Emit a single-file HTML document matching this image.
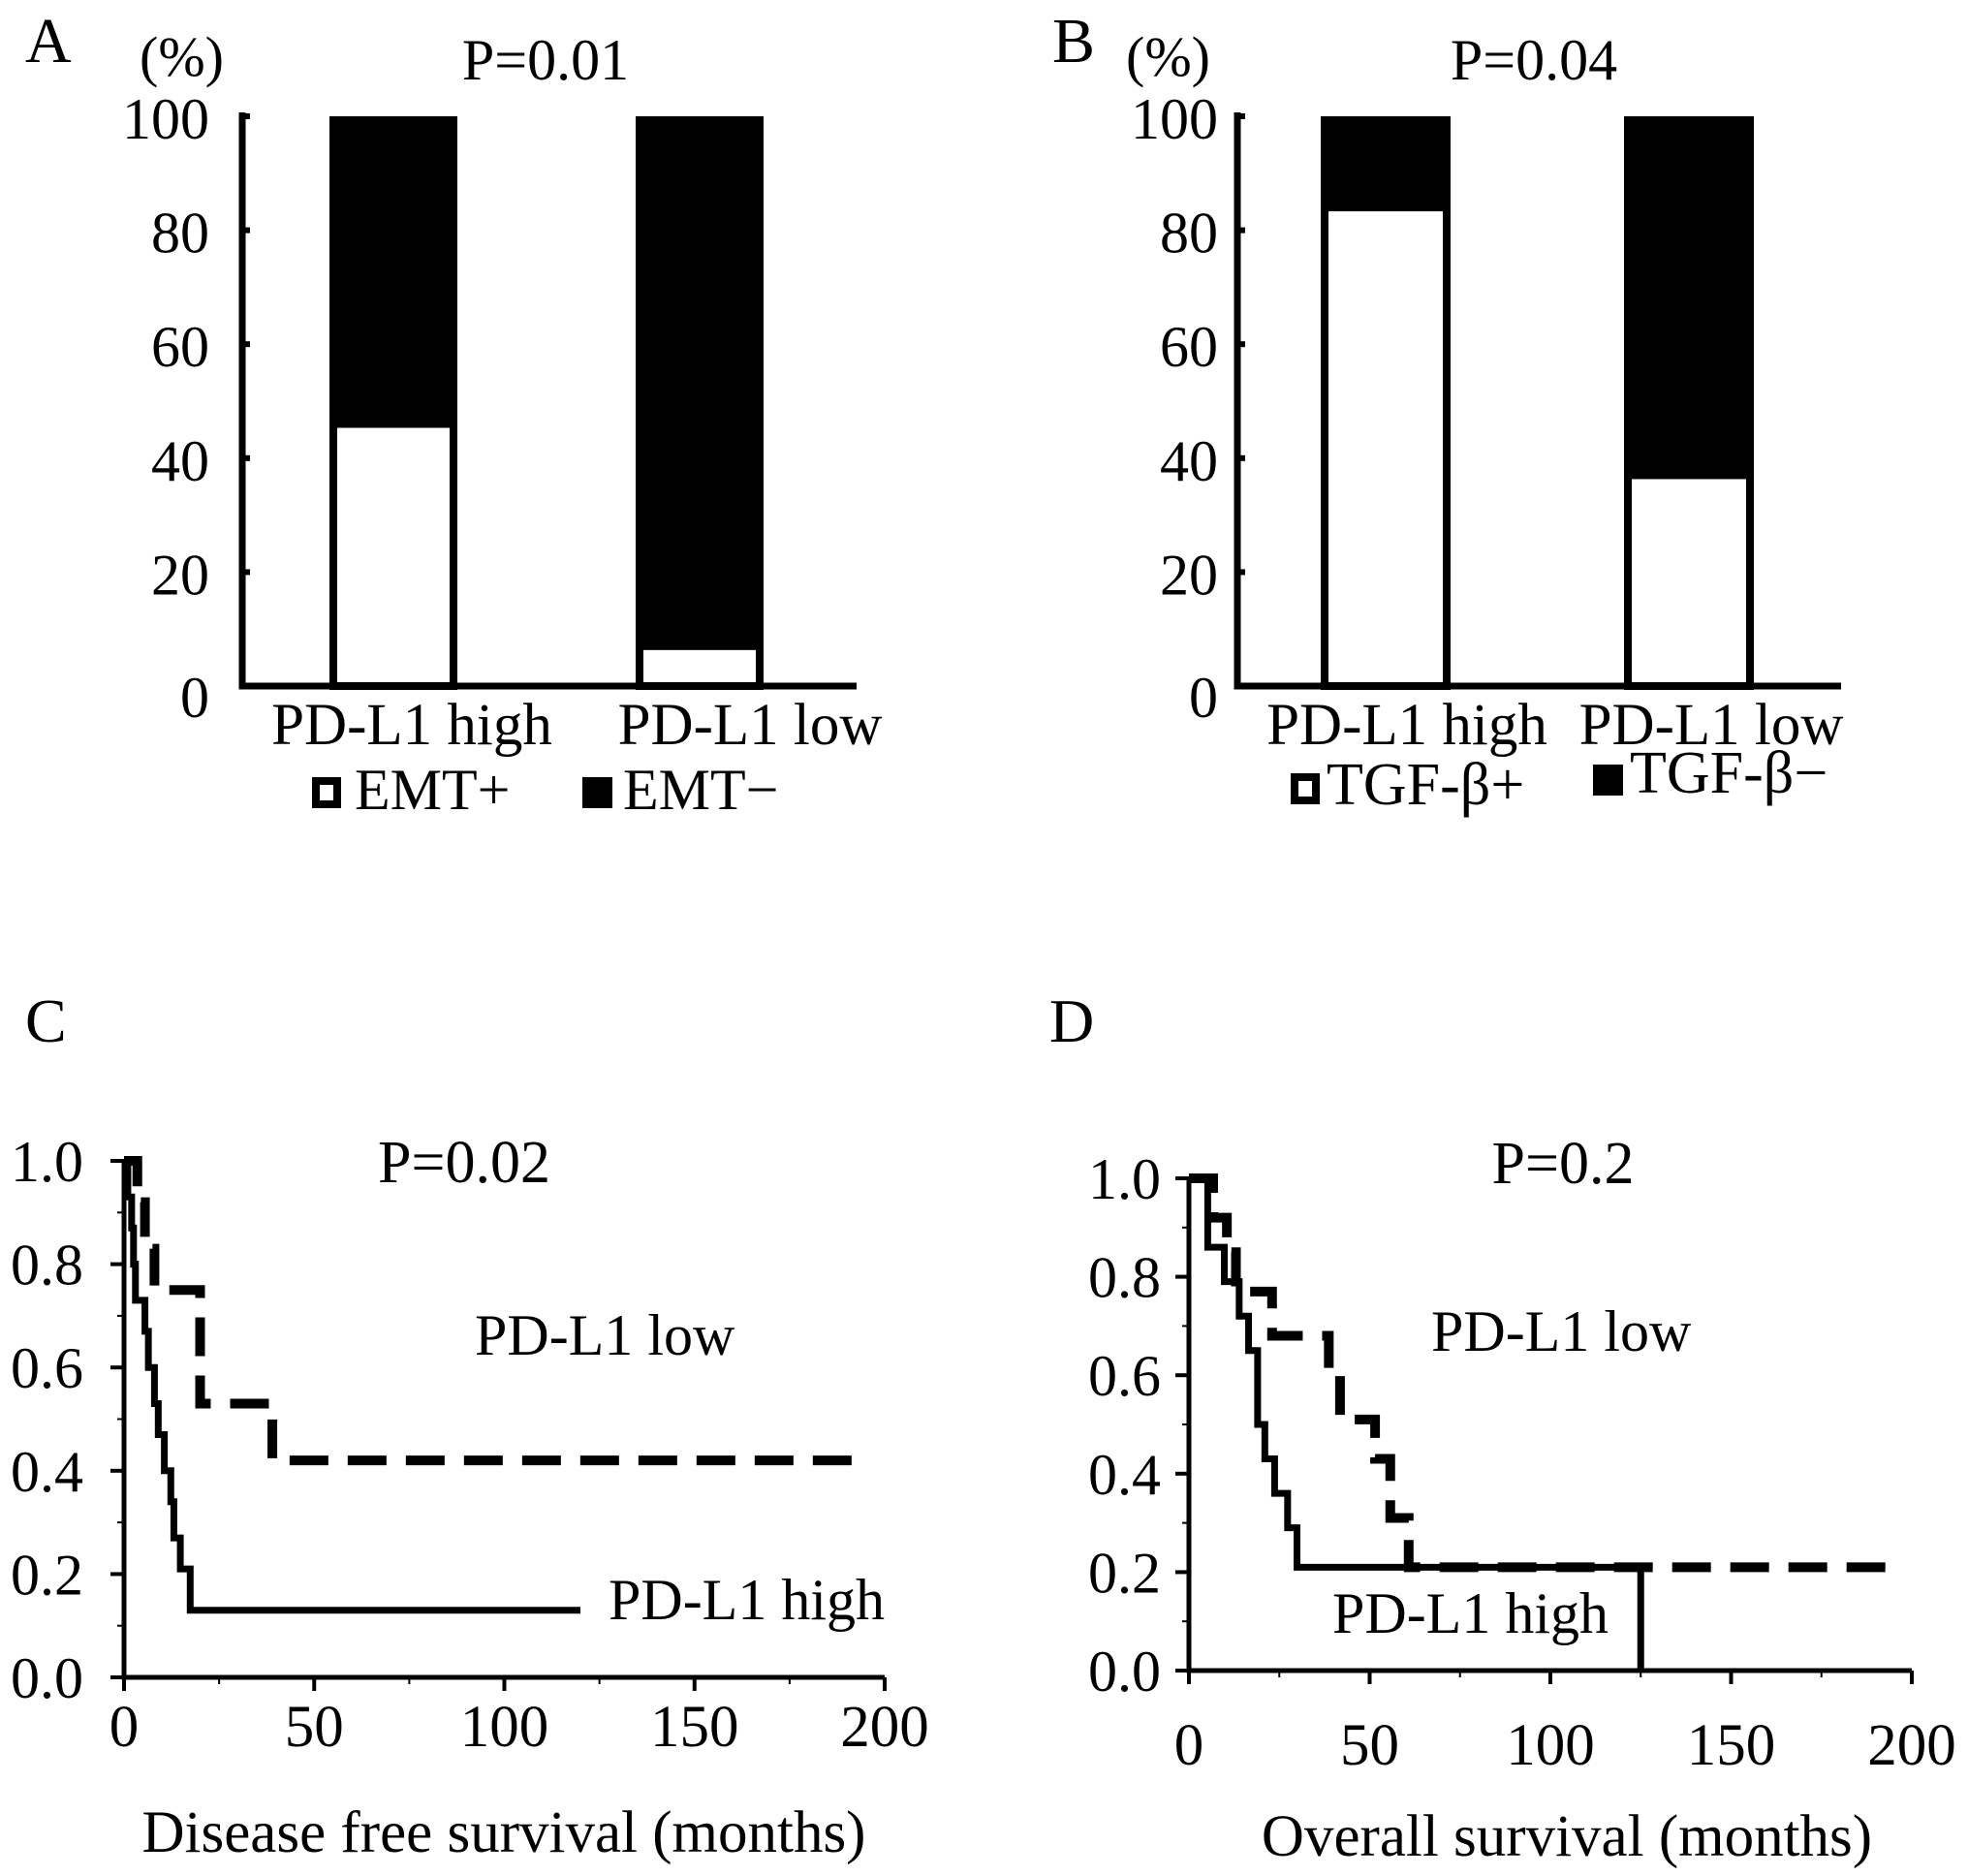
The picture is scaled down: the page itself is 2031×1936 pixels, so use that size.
<!DOCTYPE html>
<html><head><meta charset="utf-8"><style>
html,body{margin:0;padding:0;background:#fff;}
svg{display:block;}
text{font-family:"Liberation Serif","DejaVu Serif",serif;fill:#000;}
</style></head><body>
<svg id="fig" width="2031" height="1936" viewBox="0 0 2031 1936" xmlns="http://www.w3.org/2000/svg">
<rect width="2031" height="1936" fill="#fff"/>
<g id="pA"></g>
<g id="pB"></g>
<g id="pC"></g>
<g id="pD"></g>
</svg>
<script>
// ---- data ----
const barCategories = ["PD-L1 high", "PD-L1 low"];
const emtPositive = [46, 7];
const tgfPositive = [84, 37];
const barTicks = [0, 20, 40, 60, 80, 100];

const dfsHighT = [0, 1, 2, 2.5, 3, 5.5, 6.4, 8, 9, 10.6, 12.3, 13.1, 14.8, 17.4, 120];
const dfsHighS = [1.0, 0.93, 0.87, 0.80, 0.73, 0.67, 0.60, 0.53, 0.47, 0.40, 0.34, 0.27, 0.21, 0.13, 0.13];
const dfsLowT = [0, 3.5, 5.5, 8, 20, 39, 192];
const dfsLowS = [1.0, 0.92, 0.83, 0.75, 0.53, 0.42, 0.42];

const osHighT = [0, 5.2, 9.8, 13.9, 16.5, 19, 21, 23.7, 27.3, 29.9, 125];
const osHighS = [1.0, 0.86, 0.79, 0.72, 0.65, 0.50, 0.43, 0.36, 0.29, 0.21, 0.0];
const osLowT = [0, 6.7, 10.5, 13, 23, 38.7, 41.8, 51.5, 55.7, 60.8, 195];
const osLowS = [1.0, 0.92, 0.85, 0.77, 0.68, 0.60, 0.51, 0.43, 0.31, 0.21, 0.21];

const survYTicks = ["0.0", "0.2", "0.4", "0.6", "0.8", "1.0"];
const survXTicks = [0, 50, 100, 150, 200];

const NS = "http://www.w3.org/2000/svg";
function mk(parent, tag, attrs, txt) {
  const e = document.createElementNS(NS, tag);
  for (const k in attrs) e.setAttribute(k, attrs[k]);
  if (txt !== undefined) e.textContent = txt;
  parent.appendChild(e);
  return e;
}

// ---- bar panels ----
function barPanel(g, cfg) {
  const y = v => cfg.base - (v / 100) * (cfg.base - cfg.top);
  let t = mk(g, "text", {x: cfg.letterX, y: cfg.letterY, "font-size": 66});
  t.textContent = cfg.letter;
  
  
  t = mk(g, "text", {x: cfg.pctX, y: cfg.pctY, "font-size": 58}, "(%)");
  
  
  t = mk(g, "text", {x: cfg.pX, y: cfg.pY, "font-size": 60, "text-anchor": "middle"}, cfg.p);
  
  
  cfg.values.forEach((v, i) => {
    const x0 = cfg.barX[i], w = cfg.barW;
    const bg = mk(g, "g", {});
    
    
    let r = mk(bg, "rect", {x: x0, y: y(100), width: w, height: y(v) - y(100), fill: "#000"});
    
    
    r = mk(bg, "rect", {x: x0 + 4, y: y(v), width: w - 8, height: y(0) - y(v), fill: "#fff", stroke: "#000", "stroke-width": 8});
    
    
  });
  let a = mk(g, "path", {d: `M${cfg.axisX},${cfg.top - 4} V${cfg.base} H${cfg.axisEnd}`, fill: "none", stroke: "#000", "stroke-width": 7});
  
  
  barTicks.forEach(v => {
    const tk = mk(g, "line", {x1: cfg.axisX, x2: cfg.axisX + 8, y1: y(v), y2: y(v), stroke: "#000", "stroke-width": 6});
    
    
    const tl = mk(g, "text", {x: cfg.tickRight, y: y(v) + (v === 0 ? 32 : 23), "font-size": 60, "text-anchor": "end"}, String(v));
    
    
  });
  barCategories.forEach((c, i) => {
    const tl = mk(g, "text", {x: cfg.catX[i], y: cfg.catY, "font-size": 61, "text-anchor": "middle"}, c);
    
    
  });
  const l1 = mk(g, "g", {});
  
  
  mk(l1, "rect", {x: cfg.leg[0].sx + 4, y: cfg.leg[0].sy + 4, width: 22, height: 24, fill: "#fff", stroke: "#000", "stroke-width": 8});
  mk(l1, "text", {x: cfg.leg[0].tx, y: cfg.leg[0].ty, "font-size": cfg.legFont}, cfg.leg[0].label);
  const l2 = mk(g, "g", {});
  
  
  mk(l2, "rect", {x: cfg.leg[1].sx, y: cfg.leg[1].sy, width: 31, height: 32, fill: "#000"});
  mk(l2, "text", {x: cfg.leg[1].tx, y: cfg.leg[1].ty, "font-size": cfg.legFont}, cfg.leg[1].label);
}

barPanel(document.getElementById("pA"), {
  letter: "A", letterX: 26, letterY: 64, pctX: 144, pctY: 78, p: "P=0.01", pX: 563, pY: 82,
  values: emtPositive, top: 120, base: 708, axisX: 250, axisEnd: 884,
  barX: [340, 656], barW: 132, tickRight: 216, catX: [425, 774], catY: 768, legFont: 60,
  leg: [{sx: 322, sy: 802, tx: 366, ty: 835, label: "EMT+"}, {sx: 601, sy: 802, tx: 643, ty: 835, label: "EMT\u2212"}]
});
barPanel(document.getElementById("pB"), {
  letter: "B", letterX: 1086, letterY: 64, pctX: 1162, pctY: 78, p: "P=0.04", pX: 1583, pY: 82,
  values: tgfPositive, top: 120, base: 708, axisX: 1277, axisEnd: 1900,
  barX: [1363, 1676], barW: 134, tickRight: 1257, catX: [1452, 1766], catY: 768, legFont: 62,
  leg: [{sx: 1332, sy: 798, tx: 1369, ty: 830, label: "TGF-\u03b2+"}, {sx: 1644, sy: 789, tx: 1682, ty: 818, label: "TGF-\u03b2\u2212"}]
});

// ---- survival panels ----
function survPanel(g, cfg) {
  const xs = m => cfg.x0 + (m / 200) * (cfg.x200 - cfg.x0);
  const ys = s => cfg.y0 - s * (cfg.y0 - cfg.y1);
  let t = mk(g, "text", {x: cfg.letterX, y: cfg.letterY, "font-size": 64}, cfg.letter);
  
  
  t = mk(g, "text", {x: cfg.pX, y: cfg.pY, "font-size": 62, "text-anchor": "middle"}, cfg.p);
  
  
  let a = mk(g, "path", {d: `M${xs(0)},${ys(1)} V${ys(0)} H${xs(200)}`, fill: "none", stroke: "#000", "stroke-width": 5});
  
  
  for (let i = 0; i <= 10; i++) {
    const v = i / 10;
    const tk = mk(g, "line", {x1: xs(0) - (i % 2 === 0 ? 14 : 7), x2: xs(0), y1: ys(v), y2: ys(v), stroke: "#000", "stroke-width": i % 2 === 0 ? 4 : 2});
    
    
  }
  survYTicks.forEach(s => {
    const tl = mk(g, "text", {x: cfg.yLabRight, y: ys(parseFloat(s)) + 21, "font-size": 60, "text-anchor": "end"}, s);
    
    
  });
  for (let m = 0; m <= 200; m += 25) {
    const major = m % 50 === 0;
    const tk = mk(g, "line", {x1: xs(m), x2: xs(m), y1: ys(0), y2: ys(0) + (major ? 14 : 7), stroke: "#000", "stroke-width": major ? 4 : 2});
    
    
  }
  survXTicks.forEach(m => {
    const tl = mk(g, "text", {x: xs(m), y: cfg.xLabY, "font-size": 61, "text-anchor": "middle"}, String(m));
    
    
  });
  t = mk(g, "text", {x: cfg.titleX, y: cfg.titleY, "font-size": 61, "text-anchor": "middle", "xml:space": "preserve"}, cfg.title);
  
  
  function stepPath(T, S) {
    let d = `M${xs(T[0])},${ys(S[0])}`;
    for (let i = 1; i < T.length; i++) d += ` H${xs(T[i])} V${ys(S[i])}`;
    return d;
  }
  let p = mk(g, "path", {d: stepPath(cfg.lowT, cfg.lowS), fill: "none", stroke: "#000", "stroke-width": 10, "stroke-dasharray": "40 20"});
  
  
  p = mk(g, "path", {d: stepPath(cfg.highT, cfg.highS), fill: "none", stroke: "#000", "stroke-width": 7});
  
  
  t = mk(g, "text", {x: cfg.lowLab[0], y: cfg.lowLab[1], "font-size": 60}, "PD-L1 low");
  
  
  t = mk(g, "text", {x: cfg.highLab[0], y: cfg.highLab[1], "font-size": 60}, "PD-L1 high");
  
  
}

survPanel(document.getElementById("pC"), {
  letter: "C", letterX: 26, letterY: 1075, p: "P=0.02", pX: 479, pY: 1220,
  x0: 128, x200: 913, y0: 1731, y1: 1198, yLabRight: 86, xLabY: 1802,
  title: "Disease free survival  (months)", titleX: 520, titleY: 1911,
  highT: dfsHighT, highS: dfsHighS, lowT: dfsLowT, lowS: dfsLowS,
  lowLab: [490, 1398], highLab: [628, 1671]
});
survPanel(document.getElementById("pD"), {
  letter: "D", letterX: 1083, letterY: 1075, p: "P=0.2", pX: 1613, pY: 1221,
  x0: 1227, x200: 1973, y0: 1724, y1: 1216, yLabRight: 1198, xLabY: 1821,
  title: "Overall survival (months)", titleX: 1617, titleY: 1915,
  highT: osHighT, highS: osHighS, lowT: osLowT, lowS: osLowS,
  lowLab: [1477, 1394], highLab: [1375, 1685]
});
</script>
</body></html>
